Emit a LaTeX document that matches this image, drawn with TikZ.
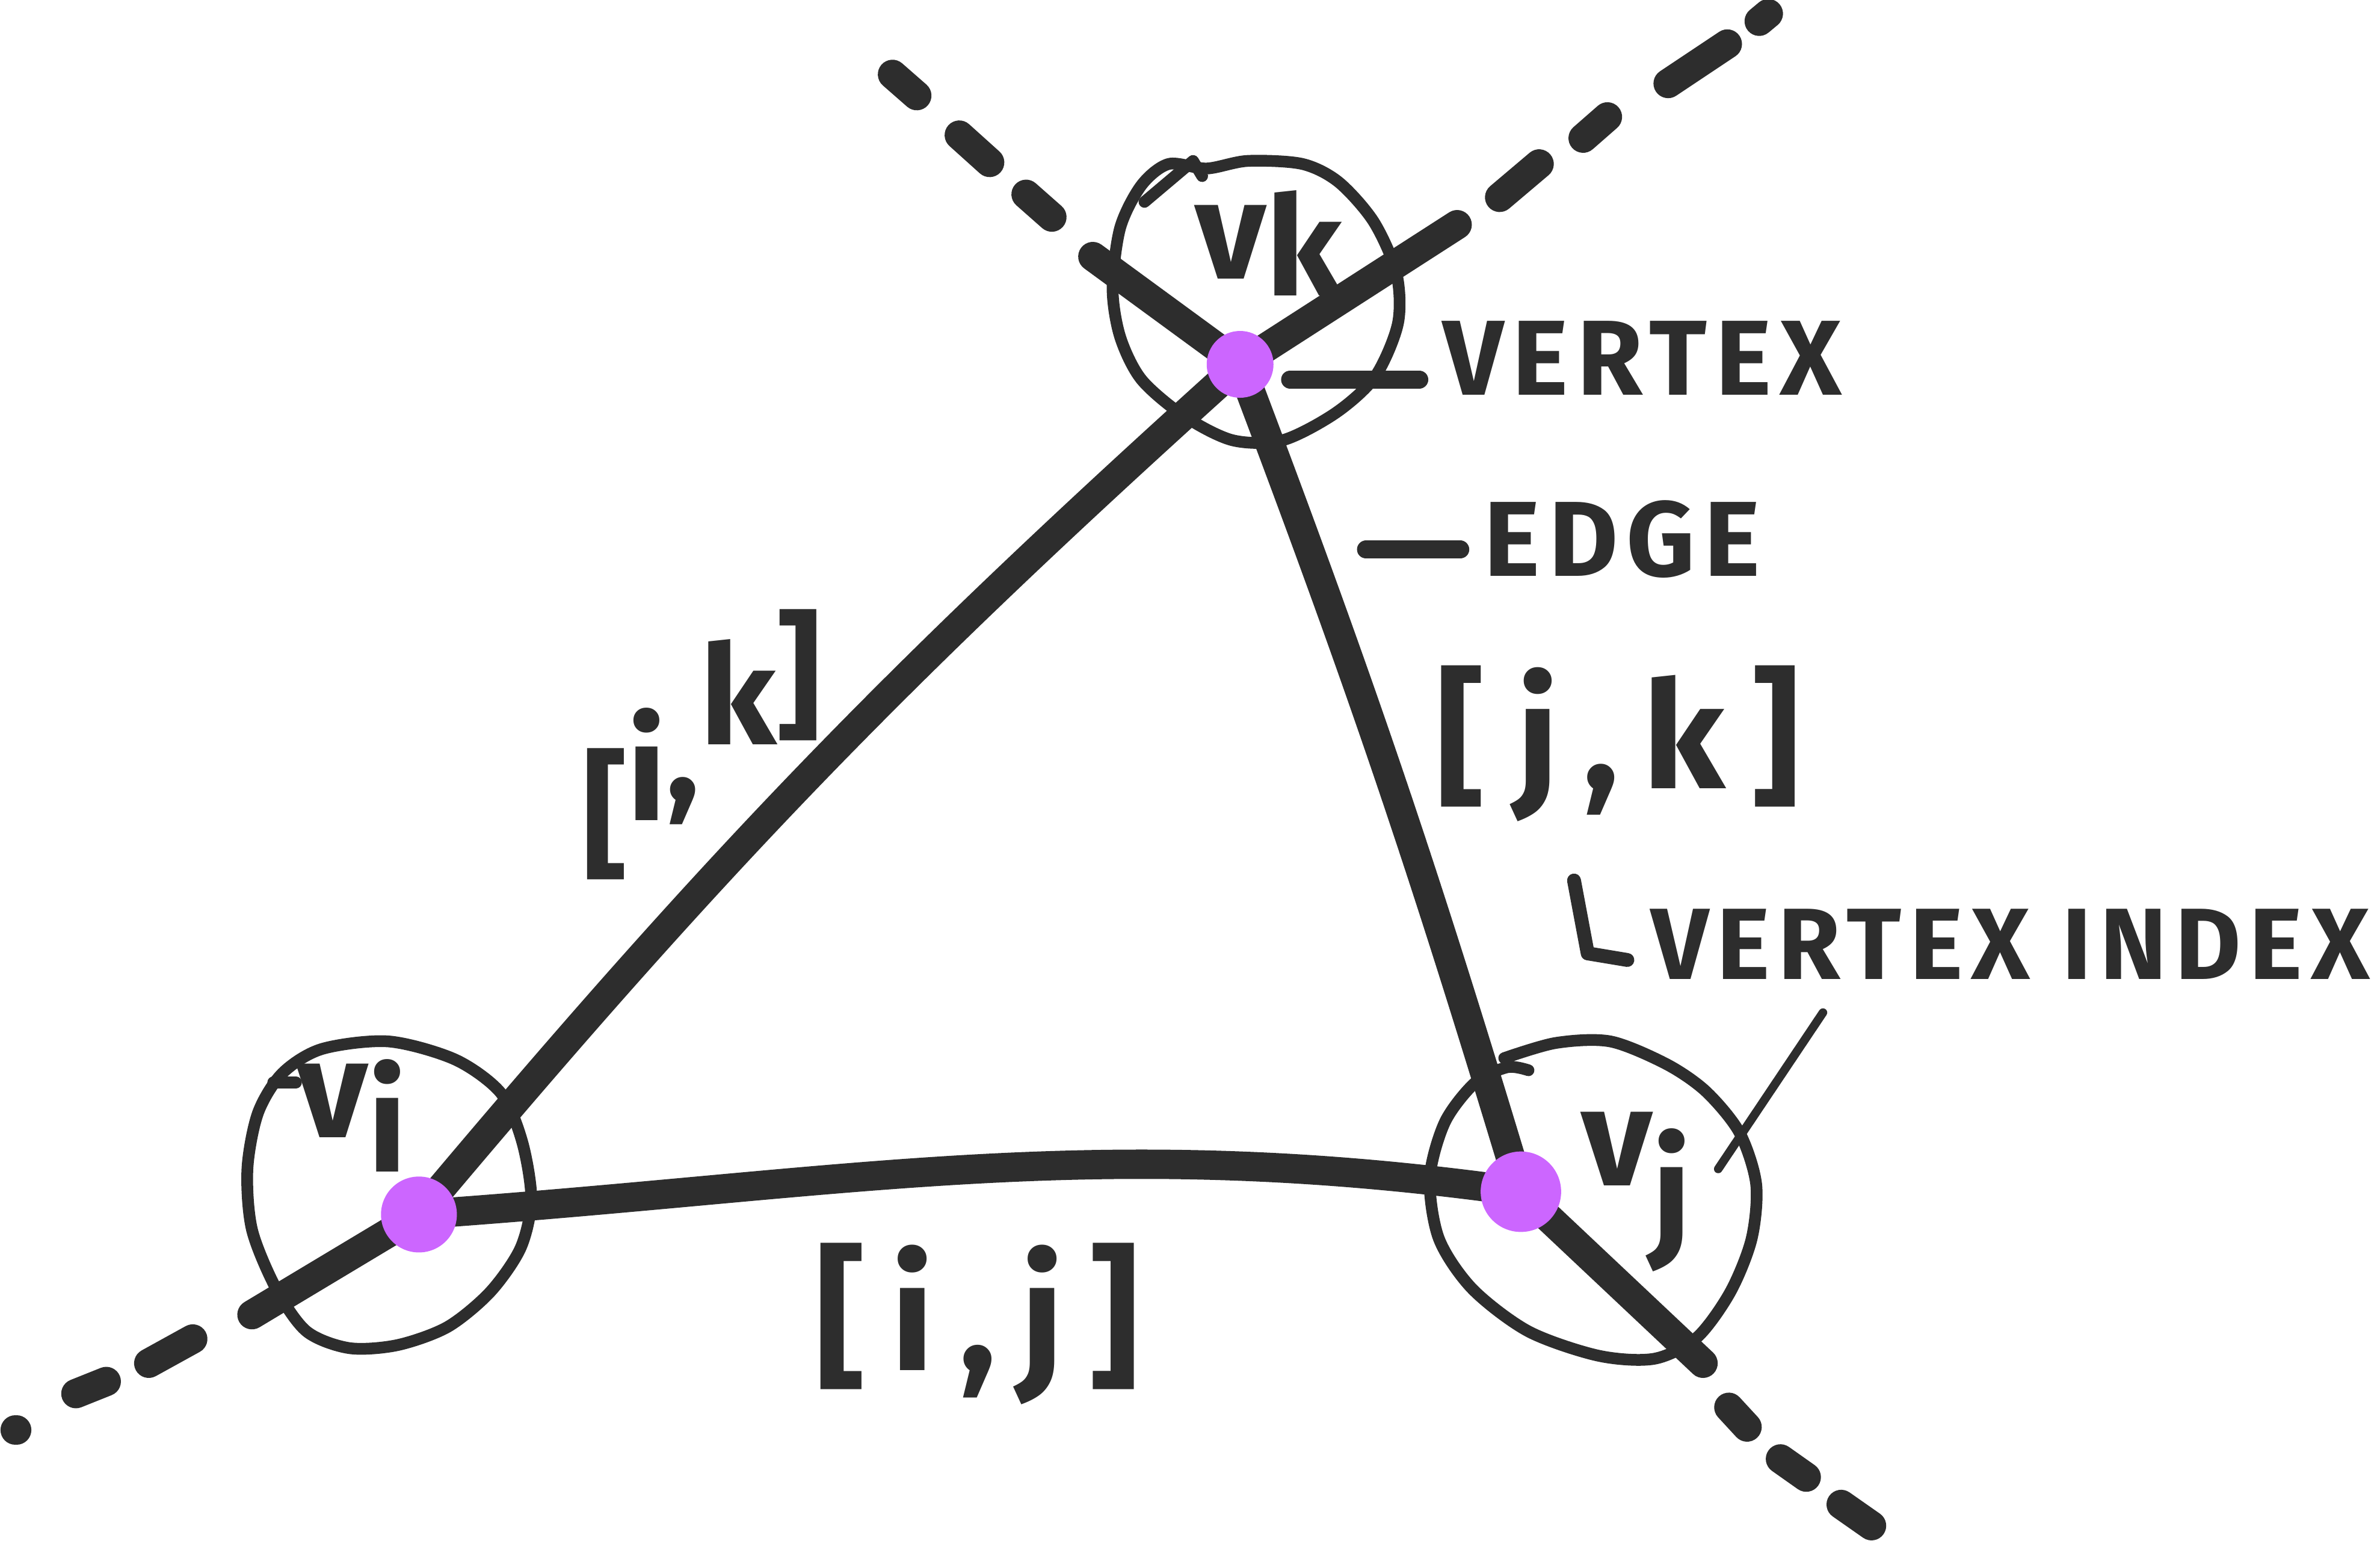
\documentclass[tikz,border=0pt]{standalone}
\usepackage{fontspec}
\newfontfamily\handfont[LetterSpace=8.0]{Fira Sans}
\newfontfamily\brkfont[LetterSpace=16.0]{Fira Sans}
\usetikzlibrary{positioning,calc}
\definecolor{ink}{RGB}{45,45,45}
\definecolor{vpurple}{RGB}{204,102,255}
\tikzset{
  edgeline/.style={ink,line width=5.5pt,line cap=round,line join=round},
  dashbit/.style={ink,line width=5.5pt,line cap=round},
  ring/.style={ink,line width=2.2pt,line cap=round,line join=round},
  leader/.style={ink,line width=3.4pt,line cap=round,line join=round,shorten >=1mm},
  vdot/.style={circle,fill=vpurple,inner sep=0pt},
  lbl/.style={text=ink,font=\handfont\bfseries\fontsize{20}{24}\selectfont,inner sep=0.5mm},
  brk/.style={text=ink,font=\brkfont\bfseries\fontsize{28}{32}\selectfont,inner sep=0.5mm},
  vname/.style={text=ink,font=\handfont\bfseries\fontsize{26}{30}\selectfont,inner sep=0pt}
}
\begin{document}
\begin{tikzpicture}[x=0.1mm,y=-0.1mm]
  \useasboundingbox (0,0) rectangle (1568,1015);
  %vertex positions
    \coordinate (vi) at (276,800);
    \coordinate (vj) at (1002,785);
    \coordinate (vk) at (817,240);
  %free ends of the lines
    \coordinate (bL) at (166,866);
    \coordinate (bR) at (960,148);
    \coordinate (aL) at (720,169);
    \coordinate (aR) at (1122,898);
  %draw circles round the vertices
    \draw[ring] plot[smooth cycle] coordinates {(795,111) (822,106) (858,108) (882,120) (905,146) (920,180) (921,213) (906,248) (880,272) (845,290) (812,290) (780,274) (752,250) (738,222) (733,190) (738,150) (752,122) (770,108)};
    \draw[ring] (754,133) -- (786,106) -- (792,116);
    \draw[ring] plot[smooth cycle] coordinates {(256,686) (212,691) (186,707) (170,733) (163,770) (166,810) (182,849) (202,877) (230,888) (262,886) (295,874) (323,851) (343,822) (350,790) (344,752) (330,720) (300,698)};
    \draw[ring] (180,713) -- (195,713);
    \draw[ring] plot[smooth] coordinates {(991,697) (1025,687) (1061,686) (1098,701) (1124,719) (1146,746) (1157,780) (1154,816) (1140,851) (1118,881) (1090,895) (1053,893) (1007,877) (970,849) (948,816) (942,776) (952,739) (972,713) (993,703) (1007,705)};
  %draw edges
    \draw[edgeline] (bL) -- (vi) to[bend left=4] (vk) -- (bR);
    \draw[edgeline] (aL) -- (vk) to[bend left=2] (vj) -- (aR);
    \draw[edgeline] (vi) to[out=4,in=172] (vj);
  %dashed continuations
    \begin{scope}[every path/.style={dashbit}]
       \foreach \xa/\ya/\xb/\yb in {588/49/604/63, 632/89/652/107, 676/128/693/143,
                          988/130/1014/108, 1043/91/1059/77, 1099/55/1138/29, 1159/14/1165/9,
                          98/898/127/882, 50/918/70/910, 10/942/11/942,
                          1139/927/1151/940, 1173/961/1190/973, 1213/991/1233/1005}
         {\draw (\xa,\ya) -- (\xb,\yb);}
    \end{scope}
  %vertices
    \node[vdot,minimum size=4.4mm] (vkdot) at (vk) {};
    \node[vdot,minimum size=5mm] (vidot) at (vi) {};
    \node[vdot,minimum size=5.3mm] (vjdot) at (vj) {};
  %vertex names
    \node[vname] (lblvk) at (836,160) {v\raisebox{-0.12em}{k}};
    \node[vname] (lblvi) at (232,735) {v\raisebox{-0.25em}{i}};
    \node[vname] (lblvj) at (1078,785) {v\raisebox{-0.4em}{j}};
  %edge names
    \node[brk,font=\handfont\bfseries\fontsize{26}{30}\selectfont,anchor=base west] (lblik) at (378,568)
      {[\raisebox{0.3em}{i}\raisebox{0.45em}{,}\raisebox{0.85em}{k}\raisebox{1.0em}{]}};
    \node[brk] (lbljk) at (1066,490) {[j,k]};
    \node[brk,font=\brkfont\bfseries\fontsize{29}{33}\selectfont] (lblij) at (644,872) {[i,j]};
  %notes
    \node[lbl,anchor=west] (lblvertex) at (945,236) {VERTEX};
    \node[lbl,anchor=west] (lbledge) at (972,355) {EDGE};
    \node[lbl,font=\handfont\bfseries\fontsize{19}{23}\selectfont,anchor=west] (lblindex) at (1082,622) {VERTEX INDEX};
    \coordinate (vxstart) at (850,250);
    \coordinate (edstart) at (900,362);
    \coordinate (ixstart) at (1037,580);
    \coordinate (ixcorner) at (1046,628);
    \draw[leader] (vxstart) -- (vxstart -| lblvertex.west);
    \draw[leader] (edstart) -- (edstart -| lbledge.west);
    \draw[leader,line width=2.6pt] (ixstart) -- (ixcorner) -- ($(ixcorner -| lblindex.west)+(0,6)$);
  %pointer at v_j
    \coordinate (ptop) at (1201,667);
    \coordinate (pbot) at (1132,770);
    \draw[ring,line width=1.6pt] (ptop) -- (pbot);
\end{tikzpicture}
\end{document}
